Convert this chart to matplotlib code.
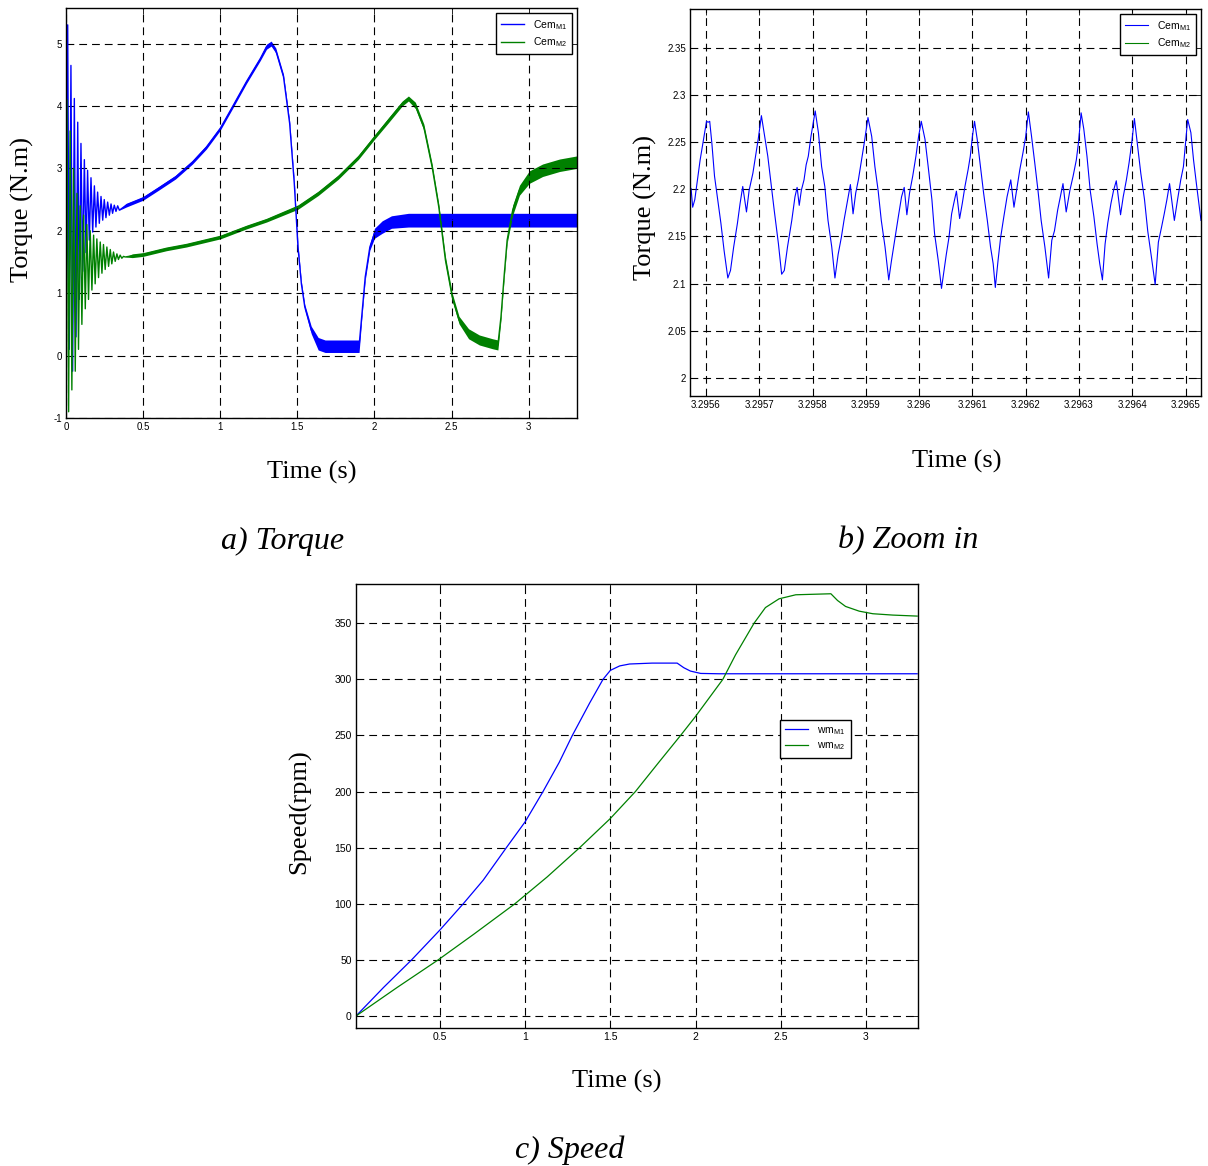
import matplotlib
matplotlib.use("Agg")
import matplotlib.pyplot as plt
import numpy as np
from matplotlib.ticker import FormatStrFormatter
from matplotlib.lines import Line2D

plt.rcParams['font.family'] = ['Liberation Sans', 'DejaVu Sans']
plt.rcParams['mathtext.fontset'] = 'custom'
plt.rcParams['mathtext.rm'] = 'Liberation Sans'

BLUE = '#0000ff'
GREEN = '#008000'

#------------------------------------------------
# a) Torque - start-up oscillation (peaks/troughs)
#------------------------------------------------
m1_osc_t = [0.000, 0.011, 0.021, 0.032, 0.043, 0.054, 0.065, 0.076, 0.086, 0.097,
            0.108, 0.119, 0.130, 0.140, 0.151, 0.162, 0.173, 0.184, 0.194, 0.205,
            0.216, 0.227, 0.238, 0.248, 0.259, 0.270, 0.281, 0.292, 0.302, 0.313,
            0.324, 0.335, 0.346]
m1_osc_cem = [0.0, 5.3, 0.1, 4.65, -0.25, 4.12, 0.3, 3.74, 0.9, 3.4,
              1.35, 3.14, 1.65, 2.97, 1.85, 2.85, 1.98, 2.72, 2.06, 2.62,
              2.12, 2.55, 2.17, 2.5, 2.21, 2.46, 2.25, 2.43, 2.28, 2.41,
              2.31, 2.4, 2.33]

m2_osc_t = [0.000, 0.006, 0.017, 0.027, 0.038, 0.049, 0.060, 0.071, 0.081, 0.092,
            0.103, 0.114, 0.125, 0.135, 0.146, 0.157, 0.168, 0.179, 0.189, 0.200,
            0.211, 0.222, 0.233, 0.243, 0.254, 0.265, 0.276, 0.287, 0.297, 0.308,
            0.319, 0.330, 0.340, 0.351, 0.362, 0.373, 0.384]
m2_osc_cem = [0.0, 4.1, -0.9, 3.6, -0.55, 3.0, -0.25, 2.6, 0.1, 2.4,
              0.5, 2.25, 0.75, 2.1, 0.9, 2.0, 1.05, 1.93, 1.15, 1.87,
              1.25, 1.82, 1.32, 1.78, 1.38, 1.74, 1.43, 1.70, 1.47, 1.66,
              1.51, 1.63, 1.54, 1.61, 1.56, 1.59, 1.58]

# a) Torque - main course (centre of the band) and ripple half width
m1_t = [0.39, 0.5, 0.6, 0.71, 0.82, 0.91, 1.0, 1.08, 1.17, 1.26,
        1.30, 1.33, 1.36, 1.41, 1.45, 1.48, 1.504, 1.526, 1.548, 1.59,
        1.635, 1.68, 1.765, 1.9, 1.917, 1.94, 1.97, 2.0, 2.05, 2.11,
        2.22, 3.313]
m1_cem = [2.41, 2.52, 2.68, 2.86, 3.1, 3.34, 3.64, 3.99, 4.39, 4.76,
          4.95, 5.0, 4.89, 4.47, 3.72, 2.76, 1.74, 1.15, 0.78, 0.41,
          0.19, 0.15, 0.15, 0.15, 0.62, 1.26, 1.74, 1.96, 2.06, 2.14,
          2.17, 2.17]
m1_rip = [0.03, 0.03, 0.03, 0.03, 0.03, 0.03, 0.03, 0.03, 0.03, 0.03,
          0.04, 0.04, 0.04, 0.04, 0.04, 0.04, 0.04, 0.04, 0.04, 0.06,
          0.1, 0.1, 0.1, 0.1, 0.05, 0.05, 0.05, 0.08, 0.1, 0.1,
          0.11, 0.11]

m2_t = [0.43, 0.5, 0.65, 0.78, 1.0, 1.17, 1.30, 1.504, 1.635, 1.765,
        1.896, 2.0, 2.09, 2.18, 2.22, 2.265, 2.32, 2.374, 2.417, 2.46,
        2.504, 2.548, 2.61, 2.68, 2.765, 2.80, 2.82, 2.84, 2.86, 2.896,
        2.94, 3.004, 3.09, 3.2, 3.313]
m2_cem = [1.6, 1.62, 1.71, 1.77, 1.90, 2.06, 2.17, 2.38, 2.60, 2.86,
          3.18, 3.50, 3.77, 4.04, 4.12, 4.01, 3.66, 3.02, 2.38, 1.53,
          0.94, 0.57, 0.35, 0.25, 0.19, 0.17, 0.62, 1.26, 1.85, 2.33,
          2.65, 2.86, 2.97, 3.05, 3.10]
m2_rip = [0.03, 0.03, 0.03, 0.03, 0.03, 0.03, 0.03, 0.035, 0.035, 0.035,
          0.035, 0.035, 0.04, 0.04, 0.04, 0.05, 0.05, 0.05, 0.05, 0.06,
          0.06, 0.06, 0.08, 0.08, 0.08, 0.08, 0.05, 0.05, 0.05, 0.08,
          0.08, 0.1, 0.1, 0.1, 0.1]

#------------------------------------------------
# b) Zoom in - time offset from 3.2956 s in microseconds
#------------------------------------------------
b_us = [-31, -28, -25, -21, -16, -11, -4, 1, 4, 7,
        11, 16, 22, 28, 34, 41, 46, 52, 59, 64,
        69, 76, 81, 88, 93, 98, 104, 109, 116, 122,
        128, 136, 142, 147, 153, 161, 167, 171, 175, 179,
        184, 188, 192, 197, 205, 211, 217, 223, 229, 236,
        242, 248, 254, 259, 266, 271, 276, 281, 286, 291,
        297, 304, 311, 317, 323, 329, 336, 343, 348, 354,
        361, 367, 372, 377, 382, 388, 394, 399, 404, 411,
        417, 424, 429, 436, 442,
        451, 456, 461, 465, 470, 476, 481, 486, 492, 496,
        500, 504, 509, 515, 521, 528, 534, 539, 543, 548,
        553, 559, 565, 572, 578, 583, 589, 595, 600, 605,
        611, 617, 623, 629, 636, 643, 649, 654, 660, 665,
        670, 676, 683, 689, 695, 699, 704, 709, 715, 721,
        728, 734, 739, 744, 749, 754, 760, 765, 770, 778,
        783, 789, 794, 799, 804, 810, 816, 823, 829, 836,
        843, 849, 855, 860, 865, 870, 879, 885, 891, 896,
        904, 910, 915, 921, 929]
b_cem = [2.199, 2.201, 2.181, 2.189, 2.21, 2.231, 2.255, 2.272, 2.271, 2.272,
         2.249, 2.214, 2.189, 2.164, 2.135, 2.106, 2.114, 2.139, 2.164, 2.185,
         2.203, 2.176, 2.199, 2.217, 2.235, 2.253, 2.278, 2.26, 2.235, 2.206,
         2.178, 2.142, 2.11, 2.114, 2.139, 2.167, 2.192, 2.202, 2.183, 2.199,
         2.21, 2.226, 2.235, 2.256, 2.283, 2.26, 2.224, 2.203, 2.167, 2.139,
         2.106, 2.131, 2.149, 2.167, 2.189, 2.205, 2.174, 2.196, 2.21, 2.228,
         2.249, 2.276, 2.256, 2.224, 2.199, 2.167, 2.139, 2.104, 2.124, 2.146,
         2.171, 2.192, 2.202, 2.173, 2.196, 2.214, 2.235, 2.256, 2.272, 2.253,
         2.224, 2.189, 2.153, 2.124, 2.095,
         2.131, 2.149, 2.174, 2.185, 2.198, 2.169, 2.185, 2.203, 2.221, 2.235,
         2.256, 2.272, 2.253, 2.224, 2.196, 2.167, 2.139, 2.121, 2.096, 2.124,
         2.149, 2.171, 2.192, 2.21, 2.181, 2.199, 2.221, 2.239, 2.256, 2.282,
         2.256, 2.228, 2.199, 2.167, 2.139, 2.106, 2.146, 2.156, 2.178, 2.192,
         2.206, 2.176, 2.199, 2.214, 2.231, 2.249, 2.281, 2.264, 2.235, 2.199,
         2.171, 2.142, 2.121, 2.104, 2.142, 2.164, 2.185, 2.199, 2.209, 2.173,
         2.192, 2.21, 2.228, 2.249, 2.275, 2.246, 2.217, 2.189, 2.156, 2.128,
         2.099, 2.144, 2.16, 2.174, 2.189, 2.206, 2.167, 2.189, 2.21, 2.224,
         2.274, 2.26, 2.231, 2.203, 2.167]

#------------------------------------------------
# c) Speed
#------------------------------------------------
w1_t = [0.008, 0.17, 0.334, 0.5, 0.637, 0.754, 0.89, 1.0, 1.105, 1.2,
        1.277, 1.379, 1.457, 1.5, 1.555, 1.613, 1.745, 1.892, 1.931, 1.97,
        2.03, 2.137, 3.3]
w1 = [0, 25.5, 50, 76.6, 100, 121, 150, 173, 200, 226,
      250, 279, 300, 308, 312, 313.7, 314.5, 314.5, 310.4, 307.4,
      305.3, 305, 305]
w2_t = [0.008, 0.25, 0.49, 0.7, 0.94, 1.13, 1.32, 1.5, 1.647, 1.784,
        1.912, 2.0, 2.16, 2.235, 2.343, 2.41, 2.49, 2.588, 2.794, 2.833,
        2.88, 2.96, 3.04, 3.157, 3.3]
w2 = [0, 25.5, 50, 73, 100, 124, 150, 176, 200, 226,
      250, 267, 300, 322, 350, 364, 371.8, 375.4, 376.3, 370.3,
      365, 360.8, 358.5, 357.3, 356.4]

torque_xticks = [0, 0.5, 1, 1.5, 2, 2.5, 3]
torque_yticks = [-1, 0, 1, 2, 3, 4, 5]
zoom_xticks = [3.2956, 3.2957, 3.2958, 3.2959, 3.2960, 3.2961, 3.2962, 3.2963, 3.2964, 3.2965]
zoom_yticks = [2.0, 2.05, 2.1, 2.15, 2.2, 2.25, 2.3, 2.35]
speed_xticks = [0.5, 1, 1.5, 2, 2.5, 3]
speed_yticks = [0, 50, 100, 150, 200, 250, 300, 350]

W, H = 1208, 1166
fig = plt.figure(figsize=(W / 100, H / 100), dpi=100)


def px_axes(left, top, right, bottom):
    # axes from pixel box of the reference
    return fig.add_axes([left / W, 1 - bottom / H, (right - left) / W, (bottom - top) / H])


def style(ax, xticks, yticks):
    ax.set_xticks(xticks)
    ax.set_yticks(yticks)
    ax.xaxis.set_major_formatter(FormatStrFormatter('%g'))
    ax.yaxis.set_major_formatter(FormatStrFormatter('%g'))
    ax.grid(True, color='black', linestyle=(0, (7, 4.5)), linewidth=0.8)
    ax.tick_params(direction='in', top=True, right=True, length=4, width=0.6,
                   labelsize=7, pad=3)
    for s in ax.spines.values():
        s.set_linewidth(1.0)


def leg(ax, handles=None, labels=None, **kw):
    args = [] if handles is None else [handles, labels]
    lg = ax.legend(*args, fontsize=7.5, frameon=True, fancybox=False,
                   edgecolor='black', framealpha=1, handlelength=2.2,
                   borderpad=0.5, labelspacing=0.35, handletextpad=0.9, **kw)
    lg.get_frame().set_linewidth(1.0)
    return lg


def label(x, y, s, size=19, rot=0, italic=False):
    fig.text(x / W, 1 - y / H, s, ha='center', va='center', rotation=rot,
             family=['Liberation Serif', 'DejaVu Serif'], fontsize=size,
             style='italic' if italic else 'normal')


#------------------
# a) Torque
#------------------
ax_a = px_axes(66, 8, 577, 418)
t1 = np.array(m1_osc_t + m1_t)
c1 = np.array(m1_osc_cem + m1_cem)
r1 = np.array([0.0] * len(m1_osc_t) + m1_rip)
t2 = np.array(m2_osc_t + m2_t)
c2 = np.array(m2_osc_cem + m2_cem)
r2 = np.array([0.0] * len(m2_osc_t) + m2_rip)

ax_a.fill_between(t1, c1 - r1, c1 + r1, color=BLUE, linewidth=0)
ax_a.plot(t1, c1, color=BLUE, linewidth=1.0, label='Cem$_{\\mathrm{M1}}$')
ax_a.fill_between(t2, c2 - r2, c2 + r2, color=GREEN, linewidth=0)
ax_a.plot(t2, c2, color=GREEN, linewidth=1.0, label='Cem$_{\\mathrm{M2}}$')
ax_a.set_xlim(0, 3.313)
ax_a.set_ylim(-1, 5.57)
style(ax_a, torque_xticks, torque_yticks)
leg(ax_a, loc='upper right', borderaxespad=0.45)

label(22, 209, 'Torque (N.m)', rot=90)
label(312, 472, 'Time (s)')
label(283, 541, 'a) Torque', size=23, italic=True)

#------------------
# b) Zoom in
#------------------
ax_b = px_axes(690, 9, 1201, 396)
tb = 3.2956 + np.array(b_us) * 1e-6
ax_b.plot(tb, b_cem, color=BLUE, linewidth=0.8)
ax_b.set_xlim(3.2956 - 30e-6, 3.2956 + 929e-6)
ax_b.set_ylim(1.981, 2.391)
style(ax_b, zoom_xticks, zoom_yticks)
handles = [Line2D([], [], color=BLUE, linewidth=0.8),
           Line2D([], [], color=GREEN, linewidth=0.8)]
leg(ax_b, handles, ['Cem$_{\\mathrm{M1}}$', 'Cem$_{\\mathrm{M2}}$'],
    loc='upper right', borderaxespad=0.45)

label(645, 207, 'Torque (N.m)', rot=90)
label(957, 461, 'Time (s)')
label(908, 541, 'b) Zoom in', size=23, italic=True)

#------------------
# c) Speed
#------------------
ax_c = px_axes(356, 584, 918, 1028)
ax_c.plot(w1_t, w1, color=BLUE, linewidth=0.9, label='wm$_{\\mathrm{M1}}$')
ax_c.plot(w2_t, w2, color=GREEN, linewidth=0.9, label='wm$_{\\mathrm{M2}}$')
ax_c.set_xlim(0.008, 3.305)
ax_c.set_ylim(-10.7, 385)
style(ax_c, speed_xticks, speed_yticks)
ax_c.tick_params(labelsize=7.5)
leg(ax_c, loc='upper left', bbox_to_anchor=(0.754, 0.694), borderaxespad=0)

label(300, 812, 'Speed(rpm)', rot=90)
label(617, 1081, 'Time (s)')
label(570, 1150, 'c) Speed', size=23, italic=True)

fig.savefig('out.png', dpi=100)
